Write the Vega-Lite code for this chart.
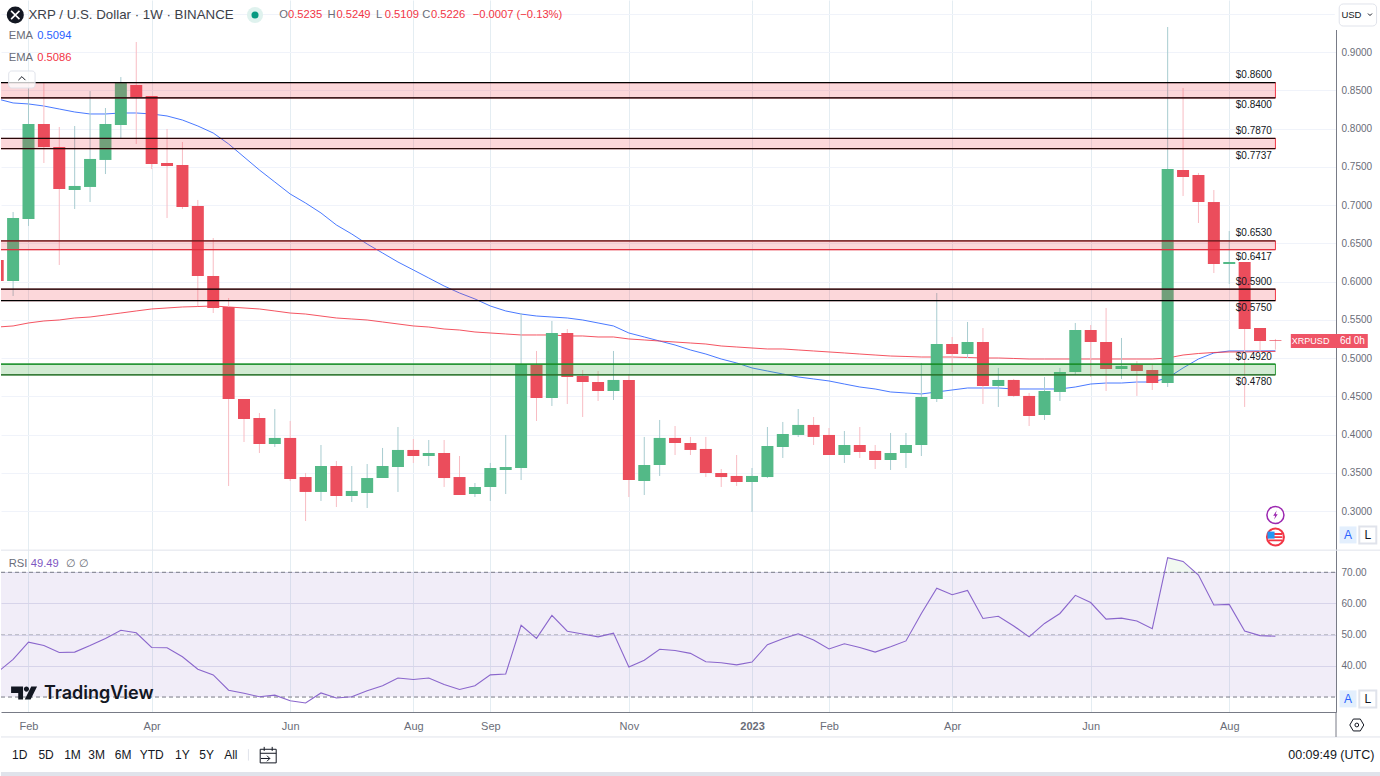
{
"$schema":"https://vega.github.io/schema/vega-lite/v6.json",
"padding":0,"background":"white","spacing":0,"bounds":"flush",
"config":{"view":{"stroke":null},"legend":{"disable":true},"scale":{"continuousPadding":0},"text":{"font":"Liberation Sans"},"axis":{"title":null,"titleOpacity":0,"labelFont":"Liberation Sans"}},
"datasets":{
"candles":[
{"d":"2022-01-24","o":0.6281,"h":0.6300,"l":0.5950,"c":0.6007,"eb":0.8386,"er":0.5405,"r":38},
{"d":"2022-01-31","o":0.6007,"h":0.6909,"l":0.5811,"c":0.6830,"eb":0.8334,"er":0.5419,"r":42.1},
{"d":"2022-02-07","o":0.6817,"h":0.8530,"l":0.6726,"c":0.8059,"eb":0.8321,"er":0.5458,"r":47.6},
{"d":"2022-02-14","o":0.8059,"h":0.8595,"l":0.7549,"c":0.7758,"eb":0.8294,"er":0.5484,"r":46.5},
{"d":"2022-02-21","o":0.7758,"h":0.8020,"l":0.6216,"c":0.7209,"eb":0.8255,"er":0.5497,"r":44.3},
{"d":"2022-02-28","o":0.7196,"h":0.8033,"l":0.6948,"c":0.7249,"eb":0.8216,"er":0.5523,"r":44.4},
{"d":"2022-03-07","o":0.7236,"h":0.8490,"l":0.7039,"c":0.7602,"eb":0.8190,"er":0.5536,"r":46.5},
{"d":"2022-03-14","o":0.7589,"h":0.8268,"l":0.7405,"c":0.8059,"eb":0.8190,"er":0.5562,"r":48.8},
{"d":"2022-03-21","o":0.8046,"h":0.8673,"l":0.7876,"c":0.8595,"eb":0.8203,"er":0.5588,"r":51.4},
{"d":"2022-03-28","o":0.8569,"h":0.9131,"l":0.7798,"c":0.8412,"eb":0.8203,"er":0.5615,"r":50.6},
{"d":"2022-04-04","o":0.8425,"h":0.8425,"l":0.7471,"c":0.7536,"eb":0.8190,"er":0.5641,"r":45.9},
{"d":"2022-04-11","o":0.7549,"h":0.7994,"l":0.6830,"c":0.7510,"eb":0.8164,"er":0.5654,"r":45.8},
{"d":"2022-04-18","o":0.7523,"h":0.7824,"l":0.6948,"c":0.6974,"eb":0.8111,"er":0.5667,"r":42.9},
{"d":"2022-04-25","o":0.6987,"h":0.7066,"l":0.5680,"c":0.6072,"eb":0.8033,"er":0.5673,"r":38.9},
{"d":"2022-05-02","o":0.6072,"h":0.6569,"l":0.5588,"c":0.5654,"eb":0.7941,"er":0.5680,"r":37.1},
{"d":"2022-05-09","o":0.5667,"h":0.5785,"l":0.3327,"c":0.4464,"eb":0.7798,"er":0.5667,"r":32.2},
{"d":"2022-05-16","o":0.4464,"h":0.4464,"l":0.3902,"c":0.4203,"eb":0.7628,"er":0.5654,"r":31.2},
{"d":"2022-05-23","o":0.4216,"h":0.4281,"l":0.3758,"c":0.3876,"eb":0.7458,"er":0.5641,"r":30.1},
{"d":"2022-05-30","o":0.3876,"h":0.4333,"l":0.3837,"c":0.3955,"eb":0.7301,"er":0.5615,"r":30.6},
{"d":"2022-06-06","o":0.3955,"h":0.4177,"l":0.3392,"c":0.3418,"eb":0.7144,"er":0.5588,"r":28.8},
{"d":"2022-06-13","o":0.3444,"h":0.3497,"l":0.2869,"c":0.3249,"eb":0.7026,"er":0.5575,"r":28.1},
{"d":"2022-06-20","o":0.3249,"h":0.3863,"l":0.3131,"c":0.3588,"eb":0.6896,"er":0.5549,"r":31.3},
{"d":"2022-06-27","o":0.3588,"h":0.3654,"l":0.3052,"c":0.3196,"eb":0.6739,"er":0.5523,"r":29.7},
{"d":"2022-07-04","o":0.3196,"h":0.3588,"l":0.3118,"c":0.3262,"eb":0.6621,"er":0.5510,"r":30.1},
{"d":"2022-07-11","o":0.3235,"h":0.3614,"l":0.3039,"c":0.3431,"eb":0.6490,"er":0.5497,"r":32.0},
{"d":"2022-07-18","o":0.3431,"h":0.3824,"l":0.3431,"c":0.3588,"eb":0.6373,"er":0.5471,"r":33.6},
{"d":"2022-07-25","o":0.3575,"h":0.4098,"l":0.3249,"c":0.3798,"eb":0.6255,"er":0.5445,"r":36.1},
{"d":"2022-08-01","o":0.3798,"h":0.3941,"l":0.3628,"c":0.3719,"eb":0.6151,"er":0.5419,"r":35.6},
{"d":"2022-08-08","o":0.3719,"h":0.3928,"l":0.3588,"c":0.3758,"eb":0.6046,"er":0.5405,"r":36.1},
{"d":"2022-08-15","o":0.3758,"h":0.3928,"l":0.3314,"c":0.3431,"eb":0.5941,"er":0.5379,"r":34.0},
{"d":"2022-08-22","o":0.3444,"h":0.3719,"l":0.3209,"c":0.3209,"eb":0.5850,"er":0.5366,"r":32.4},
{"d":"2022-08-29","o":0.3222,"h":0.3366,"l":0.3183,"c":0.3314,"eb":0.5772,"er":0.5340,"r":33.6},
{"d":"2022-09-05","o":0.3314,"h":0.3628,"l":0.3131,"c":0.3562,"eb":0.5680,"er":0.5327,"r":37.1},
{"d":"2022-09-12","o":0.3536,"h":0.3994,"l":0.3222,"c":0.3575,"eb":0.5615,"er":0.5314,"r":37.4},
{"d":"2022-09-19","o":0.3562,"h":0.5588,"l":0.3405,"c":0.4922,"eb":0.5575,"er":0.5301,"r":53.0},
{"d":"2022-09-26","o":0.4909,"h":0.5092,"l":0.4177,"c":0.4477,"eb":0.5549,"er":0.5301,"r":48.8},
{"d":"2022-10-03","o":0.4477,"h":0.5484,"l":0.4373,"c":0.5327,"eb":0.5536,"er":0.5301,"r":56.2},
{"d":"2022-10-10","o":0.5327,"h":0.5379,"l":0.4399,"c":0.4752,"eb":0.5523,"er":0.5288,"r":51.1},
{"d":"2022-10-17","o":0.4765,"h":0.4843,"l":0.4229,"c":0.4686,"eb":0.5497,"er":0.5288,"r":50.2},
{"d":"2022-10-24","o":0.4686,"h":0.4830,"l":0.4438,"c":0.4569,"eb":0.5458,"er":0.5275,"r":49.3},
{"d":"2022-10-31","o":0.4569,"h":0.5092,"l":0.4451,"c":0.4713,"eb":0.5419,"er":0.5275,"r":50.5},
{"d":"2022-11-07","o":0.4713,"h":0.4791,"l":0.3183,"c":0.3405,"eb":0.5327,"er":0.5249,"r":39.6},
{"d":"2022-11-14","o":0.3392,"h":0.3968,"l":0.3209,"c":0.3601,"eb":0.5275,"er":0.5236,"r":41.8},
{"d":"2022-11-21","o":0.3601,"h":0.4190,"l":0.3458,"c":0.3955,"eb":0.5222,"er":0.5222,"r":45.3},
{"d":"2022-11-28","o":0.3955,"h":0.4111,"l":0.3732,"c":0.3889,"eb":0.5170,"er":0.5209,"r":44.9},
{"d":"2022-12-05","o":0.3889,"h":0.3968,"l":0.3732,"c":0.3798,"eb":0.5105,"er":0.5196,"r":44.0},
{"d":"2022-12-12","o":0.3811,"h":0.3968,"l":0.3444,"c":0.3497,"eb":0.5052,"er":0.5183,"r":41.3},
{"d":"2022-12-19","o":0.3497,"h":0.3549,"l":0.3314,"c":0.3444,"eb":0.4987,"er":0.5157,"r":41.0},
{"d":"2022-12-26","o":0.3458,"h":0.3732,"l":0.3327,"c":0.3379,"eb":0.4935,"er":0.5144,"r":40.3},
{"d":"2023-01-02","o":0.3379,"h":0.3562,"l":0.2987,"c":0.3458,"eb":0.4870,"er":0.5131,"r":41.2},
{"d":"2023-01-09","o":0.3444,"h":0.4098,"l":0.3431,"c":0.3850,"eb":0.4830,"er":0.5118,"r":46.8},
{"d":"2023-01-16","o":0.3837,"h":0.4164,"l":0.3693,"c":0.4007,"eb":0.4791,"er":0.5118,"r":48.7},
{"d":"2023-01-23","o":0.3994,"h":0.4333,"l":0.3968,"c":0.4125,"eb":0.4752,"er":0.5105,"r":50.3},
{"d":"2023-01-30","o":0.4125,"h":0.4229,"l":0.3863,"c":0.3968,"eb":0.4726,"er":0.5092,"r":48.3},
{"d":"2023-02-06","o":0.3994,"h":0.4085,"l":0.3732,"c":0.3732,"eb":0.4700,"er":0.5079,"r":45.4},
{"d":"2023-02-13","o":0.3732,"h":0.4046,"l":0.3628,"c":0.3863,"eb":0.4660,"er":0.5066,"r":47.1},
{"d":"2023-02-20","o":0.3863,"h":0.4098,"l":0.3693,"c":0.3771,"eb":0.4621,"er":0.5052,"r":45.9},
{"d":"2023-02-27","o":0.3785,"h":0.3863,"l":0.3549,"c":0.3667,"eb":0.4595,"er":0.5039,"r":44.4},
{"d":"2023-03-06","o":0.3667,"h":0.4020,"l":0.3536,"c":0.3758,"eb":0.4556,"er":0.5026,"r":46.1},
{"d":"2023-03-13","o":0.3758,"h":0.4020,"l":0.3562,"c":0.3863,"eb":0.4543,"er":0.5020,"r":48.0},
{"d":"2023-03-20","o":0.3863,"h":0.4935,"l":0.3719,"c":0.4490,"eb":0.4530,"er":0.5013,"r":56.8},
{"d":"2023-03-27","o":0.4464,"h":0.5850,"l":0.4425,"c":0.5183,"eb":0.4556,"er":0.5013,"r":64.9},
{"d":"2023-04-03","o":0.5183,"h":0.5275,"l":0.4817,"c":0.5052,"eb":0.4582,"er":0.5013,"r":62.8},
{"d":"2023-04-10","o":0.5052,"h":0.5471,"l":0.5000,"c":0.5209,"eb":0.4608,"er":0.5007,"r":64.2},
{"d":"2023-04-17","o":0.5209,"h":0.5392,"l":0.4399,"c":0.4634,"eb":0.4608,"er":0.5000,"r":55.2},
{"d":"2023-04-24","o":0.4634,"h":0.4870,"l":0.4360,"c":0.4713,"eb":0.4608,"er":0.5000,"r":55.9},
{"d":"2023-05-01","o":0.4713,"h":0.4726,"l":0.4490,"c":0.4504,"eb":0.4595,"er":0.4994,"r":52.8},
{"d":"2023-05-08","o":0.4504,"h":0.4543,"l":0.4111,"c":0.4242,"eb":0.4595,"er":0.4987,"r":49.3},
{"d":"2023-05-15","o":0.4255,"h":0.4752,"l":0.4190,"c":0.4569,"eb":0.4595,"er":0.4987,"r":53.6},
{"d":"2023-05-22","o":0.4556,"h":0.4870,"l":0.4438,"c":0.4817,"eb":0.4595,"er":0.4987,"r":56.8},
{"d":"2023-05-29","o":0.4817,"h":0.5458,"l":0.4778,"c":0.5366,"eb":0.4621,"er":0.4987,"r":62.6},
{"d":"2023-06-05","o":0.5366,"h":0.5431,"l":0.4752,"c":0.5209,"eb":0.4660,"er":0.4987,"r":60.3},
{"d":"2023-06-12","o":0.5209,"h":0.5654,"l":0.4569,"c":0.4856,"eb":0.4673,"er":0.4987,"r":55.0},
{"d":"2023-06-19","o":0.4856,"h":0.5262,"l":0.4726,"c":0.4896,"eb":0.4673,"er":0.4987,"r":55.3},
{"d":"2023-06-26","o":0.4909,"h":0.4961,"l":0.4504,"c":0.4830,"eb":0.4686,"er":0.4987,"r":54.4},
{"d":"2023-07-03","o":0.4843,"h":0.4922,"l":0.4582,"c":0.4673,"eb":0.4686,"er":0.4987,"r":51.9},
{"d":"2023-07-10","o":0.4673,"h":0.9327,"l":0.4621,"c":0.7471,"eb":0.4739,"er":0.5000,"r":74.7},
{"d":"2023-07-17","o":0.7458,"h":0.8530,"l":0.7118,"c":0.7366,"eb":0.4870,"er":0.5039,"r":73.5},
{"d":"2023-07-24","o":0.7392,"h":0.7419,"l":0.6765,"c":0.7039,"eb":0.4987,"er":0.5059,"r":69.1},
{"d":"2023-07-31","o":0.7039,"h":0.7196,"l":0.6111,"c":0.6229,"eb":0.5066,"er":0.5072,"r":59.5},
{"d":"2023-08-07","o":0.6229,"h":0.6660,"l":0.5968,"c":0.6255,"eb":0.5092,"er":0.5079,"r":59.7},
{"d":"2023-08-14","o":0.6255,"h":0.6255,"l":0.4360,"c":0.5379,"eb":0.5092,"er":0.5079,"r":51.2},
{"d":"2023-08-21","o":0.5392,"h":0.5392,"l":0.5079,"c":0.5222,"eb":0.5092,"er":0.5085,"r":49.7},
{"d":"2023-08-28","o":0.5235,"h":0.5249,"l":0.5109,"c":0.5226,"eb":0.5094,"er":0.5086,"r":49.49}
],
"zones":[
{"zone":"a","top":0.86,"bottom":0.84,"from":"2022-01-01","to":"2023-08-28"},
{"zone":"b","top":0.787,"bottom":0.7737,"from":"2022-01-01","to":"2023-08-28"},
{"zone":"c","top":0.653,"bottom":0.6417,"from":"2022-01-01","to":"2023-08-28"},
{"zone":"d","top":0.59,"bottom":0.575,"from":"2022-01-01","to":"2023-08-28"},
{"zone":"e","top":0.492,"bottom":0.478,"from":"2022-01-01","to":"2023-08-28"}
],
"notes":[
{"d":"2022-02-07","p":0.9484,"label":"XRP / U.S. Dollar · 1W · BINANCE","kind":"title"},
{"d":"2022-06-01","p":0.9484,"label":"O","kind":"muted"},
{"d":"2022-06-05","p":0.9484,"label":"0.5235","kind":"down"},
{"d":"2022-06-23","p":0.9484,"label":"H","kind":"muted"},
{"d":"2022-06-27","p":0.9484,"label":"0.5249","kind":"down"},
{"d":"2022-07-15","p":0.9484,"label":"L","kind":"muted"},
{"d":"2022-07-19","p":0.9484,"label":"0.5109","kind":"down"},
{"d":"2022-08-05","p":0.9484,"label":"C","kind":"muted"},
{"d":"2022-08-09","p":0.9484,"label":"0.5226","kind":"down"},
{"d":"2022-08-28","p":0.9484,"label":"−0.0007 (−0.13%)","kind":"down"},
{"d":"2022-01-29","p":0.9209,"label":"EMA","kind":"muted"},
{"d":"2022-02-11","p":0.9209,"label":"0.5094","kind":"blue"},
{"d":"2022-01-29","p":0.8922,"label":"EMA","kind":"muted"},
{"d":"2022-02-11","p":0.8922,"label":"0.5086","kind":"down"}
],
"rsiNotes":[
{"d":"2022-01-29","v":72.66,"label":"RSI","kind":"muted"},
{"d":"2022-02-08","v":72.66,"label":"49.49","kind":"purple"},
{"d":"2022-02-24","v":72.66,"label":"∅","kind":"muted"},
{"d":"2022-03-02","v":72.66,"label":"∅","kind":"muted"}
],
"footerNotes":[
{"d":"2022-02-03","level":0.33,"label":"1D"},
{"d":"2022-02-15","level":0.33,"label":"5D"},
{"d":"2022-02-27","level":0.33,"label":"1M"},
{"d":"2022-03-10","level":0.33,"label":"3M"},
{"d":"2022-03-22","level":0.33,"label":"6M"},
{"d":"2022-04-04","level":0.33,"label":"YTD"},
{"d":"2022-04-18","level":0.33,"label":"1Y"},
{"d":"2022-04-29","level":0.33,"label":"5Y"},
{"d":"2022-05-10","level":0.33,"label":"All"}
]
},
"vconcat":[
{"width":1335,"height":550,
"encoding":{
"x":{"field":"d","type":"temporal","scale":{"type":"utc","nice":false,"domain":[{"year":2022,"month":1,"date":25,"hours":12,"utc":true},{"year":2023,"month":9,"date":24,"hours":13,"utc":true}]},"axis":{"labels":false,"ticks":false,"domain":false,"grid":true,"gridColor":"#e4edf2","values":[{"year":2022,"month":2,"date":7,"utc":true},{"year":2022,"month":4,"date":4,"utc":true},{"year":2022,"month":6,"date":6,"utc":true},{"year":2022,"month":8,"date":1,"utc":true},{"year":2022,"month":9,"date":5,"utc":true},{"year":2022,"month":11,"date":7,"utc":true},{"year":2023,"month":1,"date":2,"utc":true},{"year":2023,"month":2,"date":6,"utc":true},{"year":2023,"month":4,"date":3,"utc":true},{"year":2023,"month":6,"date":5,"utc":true},{"year":2023,"month":8,"date":7,"utc":true}]}},
"y":{"field":"p","type":"quantitative","scale":{"domain":[0.24902,0.968],"nice":false,"zero":false},"axis":{"orient":"right","values":[0.3,0.35,0.4,0.45,0.5,0.55,0.6,0.65,0.7,0.75,0.8,0.85,0.9,0.95],"labelExpr":"datum.value>0.93?'':format(datum.value,'.4f')","grid":true,"gridColor":"#f0f3fa","ticks":false,"domain":true,"domainColor":"#787b86","labelColor":"#6a6d78","labelFontSize":10,"labelPadding":5}}
},
"layer":[
{"data":{"name":"candles"},"mark":{"type":"line","clip":true,"color":"#2962ff","strokeWidth":1,"opacity":0.85},
"encoding":{"y":{"field":"eb","type":"quantitative","title":null,"scale":{"domain":[0.24902,0.968],"nice":false,"zero":false}}}},
{"data":{"name":"candles"},"mark":{"type":"line","clip":true,"color":"#f23645","strokeWidth":1,"opacity":0.85},
"encoding":{"y":{"field":"er","type":"quantitative","title":null,"scale":{"domain":[0.24902,0.968],"nice":false,"zero":false}}}},
{"data":{"name":"candles"},"mark":{"type":"rule","clip":true,"strokeWidth":1},
"encoding":{"y":{"field":"h","type":"quantitative","title":null,"scale":{"domain":[0.24902,0.968],"nice":false,"zero":false}},"y2":{"field":"l"},
"color":{"condition":{"test":"datum.c>=datum.o","value":"#a8ccd0"},"value":"#f8bcc3"}}},
{"data":{"name":"candles"},"mark":{"type":"bar","clip":true,"size":12},
"encoding":{"y":{"field":"o","type":"quantitative","title":null,"scale":{"domain":[0.24902,0.968],"nice":false,"zero":false}},"y2":{"field":"c"},
"color":{"condition":{"test":"datum.c>=datum.o","value":"#53b987"},"value":"#eb4d5c"}}},
{"data":{"name":"zones"},"mark":{"type":"rect","clip":true},
"encoding":{"x":{"field":"from","type":"temporal","title":null,"scale":{"type":"utc","nice":false,"domain":[{"year":2022,"month":1,"date":25,"hours":12,"utc":true},{"year":2023,"month":9,"date":24,"hours":13,"utc":true}]}},"x2":{"field":"to"},
"y":{"field":"top","type":"quantitative","title":null,"scale":{"domain":[0.24902,0.968],"nice":false,"zero":false}},"y2":{"field":"bottom"},
"fill":{"condition":{"test":"datum.zone=='e'","value":"#4caf50"},"value":"#f23645"},"fillOpacity":{"condition":{"test":"datum.zone=='e'","value":0.25},"value":0.2},
"stroke":{"condition":{"test":"datum.zone=='e'","value":"#2e9e3a"},"value":"#f23645"}}},
{"data":{"name":"zones"},"mark":{"type":"rule","clip":true,"strokeWidth":1.3},
"encoding":{"x":{"field":"from","type":"temporal","title":null,"scale":{"type":"utc","nice":false,"domain":[{"year":2022,"month":1,"date":25,"hours":12,"utc":true},{"year":2023,"month":9,"date":24,"hours":13,"utc":true}]}},"x2":{"field":"to"},
"y":{"field":"top","type":"quantitative","title":null,"scale":{"domain":[0.24902,0.968],"nice":false,"zero":false}},
"color":{"condition":[{"test":"datum.zone=='b'","value":"#2a0808"},{"test":"datum.zone=='c'","value":"#5a1a1a"},{"test":"datum.zone=='e'","value":"#128a22"}],"value":"#000000"}}},
{"data":{"name":"zones"},"mark":{"type":"rule","clip":true,"strokeWidth":1.3},
"encoding":{"x":{"field":"from","type":"temporal","title":null,"scale":{"type":"utc","nice":false,"domain":[{"year":2022,"month":1,"date":25,"hours":12,"utc":true},{"year":2023,"month":9,"date":24,"hours":13,"utc":true}]}},"x2":{"field":"to"},
"y":{"field":"bottom","type":"quantitative","title":null,"scale":{"domain":[0.24902,0.968],"nice":false,"zero":false}},
"color":{"condition":[{"test":"datum.zone=='b'","value":"#2a0808"},{"test":"datum.zone=='c'","value":"#e03040"},{"test":"datum.zone=='e'","value":"#2a6a2a"}],"value":"#000000"}}},
{"data":{"name":"zones"},"mark":{"type":"text","align":"right","baseline":"middle","dx":-3.5,"dy":-7.5,"fontSize":10,"color":"#131722"},
"encoding":{"x":{"field":"to","type":"temporal","title":null,"scale":{"type":"utc","nice":false,"domain":[{"year":2022,"month":1,"date":25,"hours":12,"utc":true},{"year":2023,"month":9,"date":24,"hours":13,"utc":true}]}},
"y":{"field":"top","type":"quantitative","title":null,"scale":{"domain":[0.24902,0.968],"nice":false,"zero":false}},"text":{"field":"top","format":"$.4f"}}},
{"data":{"name":"zones"},"mark":{"type":"text","align":"right","baseline":"middle","dx":-3.5,"dy":7.5,"fontSize":10,"color":"#131722"},
"encoding":{"x":{"field":"to","type":"temporal","title":null,"scale":{"type":"utc","nice":false,"domain":[{"year":2022,"month":1,"date":25,"hours":12,"utc":true},{"year":2023,"month":9,"date":24,"hours":13,"utc":true}]}},
"y":{"field":"bottom","type":"quantitative","title":null,"scale":{"domain":[0.24902,0.968],"nice":false,"zero":false}},"text":{"field":"bottom","format":"$.4f"}}},
{"data":{"name":"notes"},"mark":{"type":"text","align":"left","baseline":"middle","fontSize":11.2},
"encoding":{"text":{"field":"label"},"size":{"condition":{"test":"datum.kind=='title'","value":13.3},"value":11.2},
"color":{"condition":[{"test":"datum.kind=='title'","value":"#3c3f48"},{"test":"datum.kind=='muted'","value":"#6a6d78"},{"test":"datum.kind=='blue'","value":"#2962ff"}],"value":"#f23645"}}},
{"data":{"values":[{"d":"2022-02-01","p":0.9484}]},"mark":{"type":"point","shape":"circle","filled":true,"size":290,"color":"#131722","opacity":1}},
{"data":{"values":[{"d":"2022-02-01","p":0.9484}]},"mark":{"type":"point","shape":"M-1 -1L1 1M1 -1L-1 1","filled":false,"size":70,"color":"#ffffff","strokeWidth":1.6,"opacity":1}},
{"data":{"values":[{"d":"2022-05-21","p":0.9484}]},"mark":{"type":"point","shape":"circle","filled":true,"size":260,"color":"#dff2ee","opacity":1}},
{"data":{"values":[{"d":"2022-05-21","p":0.9484}]},"mark":{"type":"point","shape":"circle","filled":true,"size":50,"color":"#089981","opacity":1}},
{"data":{"values":[{"d":"2022-01-29","p0":0.8752,"e":"2022-02-10","p1":0.8530}]},"mark":{"type":"rect","fill":"#ffffff","fillOpacity":0.75,"stroke":"#e0e3eb","cornerRadius":3},
"encoding":{"x2":{"field":"e"},"y":{"field":"p0","type":"quantitative","title":null,"scale":{"domain":[0.24902,0.968],"nice":false,"zero":false}},"y2":{"field":"p1"}}},
{"data":{"values":[{"d":"2022-02-04","p":0.8655}]},"mark":{"type":"point","shape":"M-1 .5L0 -.5L1 .5","filled":false,"size":50,"color":"#131722","opacity":1,"strokeWidth":1}},
{"data":{"values":[{"d":"2023-09-24","e":"2023-10-16","p0":0.968,"p1":0.9288}]},"mark":{"type":"rect","fill":"#ffffff"},
"encoding":{"x2":{"field":"e"},"y":{"field":"p0","type":"quantitative","title":null,"scale":{"domain":[0.24902,0.968],"nice":false,"zero":false}},"y2":{"field":"p1"}}},
{"data":{"values":[{"d":"2023-09-26","e":"2023-10-13","p0":0.9628,"p1":0.934}]},"mark":{"type":"rect","fill":"#ffffff","stroke":"#e0e3eb","cornerRadius":4},
"encoding":{"x2":{"field":"e"},"y":{"field":"p0","type":"quantitative","title":null,"scale":{"domain":[0.24902,0.968],"nice":false,"zero":false}},"y2":{"field":"p1"}}},
{"data":{"values":[{"d":"2023-09-27","p":0.949,"label":"USD"}]},"mark":{"type":"text","align":"left","baseline":"middle","fontSize":9.5,"color":"#131722"},"encoding":{"text":{"field":"label"}}},
{"data":{"values":[{"d":"2023-10-10","p":0.949}]},"mark":{"type":"point","shape":"M-1 -.5L0 .5L1 -.5","filled":false,"size":16,"color":"#131722","opacity":1,"strokeWidth":1}},
{"data":{"values":[{"d":"2023-09-04","e":"2023-10-09","p0":0.5314,"p1":0.5131}]},"mark":{"type":"rect","fill":"#ef5466"},
"encoding":{"x2":{"field":"e"},"y":{"field":"p0","type":"quantitative","title":null,"scale":{"domain":[0.24902,0.968],"nice":false,"zero":false}},"y2":{"field":"p1"}}},
{"data":{"values":[{"d":"2023-09-13","p":0.5222,"label":"XRPUSD"},{"d":"2023-10-02","p":0.5222,"label":"6d 0h"}]},"mark":{"type":"text","align":"center","baseline":"middle","color":"#ffffff"},"encoding":{"text":{"field":"label"},"size":{"condition":{"test":"datum.label=='XRPUSD'","value":9},"value":10}}},
{"data":{"values":[{"d":"2023-08-28","p":0.2948}]},"mark":{"type":"point","shape":"circle","filled":true,"size":290,"fill":"#ffffff","stroke":"#9c27b0","strokeWidth":1.5,"opacity":1}},
{"data":{"values":[{"d":"2023-08-28","p":0.2948}]},"mark":{"type":"point","shape":"M.25 -.9L-.45 .15H-.05L-.25 .9L.45 -.15H.05Z","filled":true,"size":100,"color":"#9c27b0","opacity":1}},
{"data":{"values":[{"d":"2023-08-28","p":0.266}]},"mark":{"type":"point","shape":"circle","filled":true,"size":290,"fill":"#ffffff","stroke":"#f23645","strokeWidth":2,"opacity":1}},
{"data":{"values":[{"d":"2023-08-28","p":0.266}]},"mark":{"type":"point","shape":"M-.95 -.55H.95V-.3H-.95ZM-1 -.1H1V.15H-1ZM-.95 .35H.95V.6H-.95Z","filled":true,"size":200,"color":"#f23645","opacity":1}},
{"data":{"values":[{"d":"2023-08-26","p":0.2685}]},"mark":{"type":"point","shape":"square","filled":true,"size":50,"color":"#2196f3","opacity":1}},
{"data":{"values":[{"d":"2023-09-30","p":0.2687}]},"mark":{"type":"point","shape":"square","filled":true,"size":289,"color":"#e3effd","opacity":1}},
{"data":{"values":[{"d":"2023-10-09","p":0.2687}]},"mark":{"type":"point","shape":"square","filled":true,"size":289,"fill":"#ffffff","stroke":"#e0e3eb","opacity":1}},
{"data":{"values":[{"d":"2023-09-30","p":0.2687,"label":"A"}]},"mark":{"type":"text","align":"center","baseline":"middle","fontSize":12,"color":"#2962ff"},"encoding":{"text":{"field":"label"}}},
{"data":{"values":[{"d":"2023-10-09","p":0.2687,"label":"L"}]},"mark":{"type":"text","align":"center","baseline":"middle","fontSize":12,"color":"#131722"},"encoding":{"text":{"field":"label"}}}
]},
{"width":1335,"height":162,
"encoding":{
"x":{"field":"d","type":"temporal","scale":{"type":"utc","nice":false,"domain":[{"year":2022,"month":1,"date":25,"hours":12,"utc":true},{"year":2023,"month":9,"date":24,"hours":13,"utc":true}]},"axis":{"labels":false,"ticks":false,"domain":false,"grid":true,"gridColor":"#e4edf2","values":[{"year":2022,"month":2,"date":7,"utc":true},{"year":2022,"month":4,"date":4,"utc":true},{"year":2022,"month":6,"date":6,"utc":true},{"year":2022,"month":8,"date":1,"utc":true},{"year":2022,"month":9,"date":5,"utc":true},{"year":2022,"month":11,"date":7,"utc":true},{"year":2023,"month":1,"date":2,"utc":true},{"year":2023,"month":2,"date":6,"utc":true},{"year":2023,"month":4,"date":3,"utc":true},{"year":2023,"month":6,"date":5,"utc":true},{"year":2023,"month":8,"date":7,"utc":true}]}},
"y":{"field":"v","type":"quantitative","scale":{"domain":[25.2,77.15],"nice":false,"zero":false},"axis":{"orient":"right","values":[40,50,60,70],"format":".2f","grid":true,"gridColor":"#e2e3f0","ticks":false,"domain":true,"domainColor":"#787b86","labelColor":"#6a6d78","labelFontSize":10,"labelPadding":5}}
},
"layer":[
{"data":{"values":[{"upper":70,"lower":30,"from":"2022-01-25T12:00:00Z","to":"2023-09-24T13:00:00Z"}]},"mark":{"type":"rect","color":"#7e57c2","opacity":0.11},
"encoding":{"x":{"field":"from","type":"temporal","title":null,"scale":{"type":"utc","nice":false,"domain":[{"year":2022,"month":1,"date":25,"hours":12,"utc":true},{"year":2023,"month":9,"date":24,"hours":13,"utc":true}]}},"x2":{"field":"to"},
"y":{"field":"upper","type":"quantitative","title":null,"scale":{"domain":[25.2,77.15],"nice":false,"zero":false}},"y2":{"field":"lower"}}},
{"data":{"values":[{"level":77.1,"from":"2022-01-25T12:00:00Z","to":"2023-10-15T00:00:00Z"}]},"mark":{"type":"rule","color":"#e0e3eb"},
"encoding":{"x":{"field":"from","type":"temporal","title":null,"scale":{"type":"utc","nice":false,"domain":[{"year":2022,"month":1,"date":25,"hours":12,"utc":true},{"year":2023,"month":9,"date":24,"hours":13,"utc":true}]}},"x2":{"field":"to"},
"y":{"field":"level","type":"quantitative","title":null,"scale":{"domain":[25.2,77.15],"nice":false,"zero":false}}}},
{"data":{"values":[{"level":70,"from":"2022-01-25T12:00:00Z","to":"2023-09-24T13:00:00Z"},{"level":30,"from":"2022-01-25T12:00:00Z","to":"2023-09-24T13:00:00Z"}]},"mark":{"type":"rule","color":"#787b86","strokeDash":[4,3],"strokeWidth":1},
"encoding":{"x":{"field":"from","type":"temporal","title":null,"scale":{"type":"utc","nice":false,"domain":[{"year":2022,"month":1,"date":25,"hours":12,"utc":true},{"year":2023,"month":9,"date":24,"hours":13,"utc":true}]}},"x2":{"field":"to"},
"y":{"field":"level","type":"quantitative","title":null,"scale":{"domain":[25.2,77.15],"nice":false,"zero":false}}}},
{"data":{"values":[{"level":50,"from":"2022-01-25T12:00:00Z","to":"2023-09-24T13:00:00Z"}]},"mark":{"type":"rule","color":"#b8bac4","strokeDash":[4,3],"strokeWidth":1},
"encoding":{"x":{"field":"from","type":"temporal","title":null,"scale":{"type":"utc","nice":false,"domain":[{"year":2022,"month":1,"date":25,"hours":12,"utc":true},{"year":2023,"month":9,"date":24,"hours":13,"utc":true}]}},"x2":{"field":"to"},
"y":{"field":"level","type":"quantitative","title":null,"scale":{"domain":[25.2,77.15],"nice":false,"zero":false}}}},
{"data":{"name":"candles"},"transform":[{"filter":"datum.r>=69"}],"mark":{"type":"area","color":"#4caf50","opacity":0.08},
"encoding":{"y":{"field":"r","type":"quantitative","title":null,"scale":{"domain":[25.2,77.15],"nice":false,"zero":false}},"y2":{"datum":70}}},
{"data":{"name":"candles"},"mark":{"type":"line","clip":true,"color":"#8a66cc","strokeWidth":1.1},
"encoding":{"y":{"field":"r","type":"quantitative","title":null,"scale":{"domain":[25.2,77.15],"nice":false,"zero":false}}}},
{"data":{"name":"rsiNotes"},"mark":{"type":"text","align":"left","baseline":"middle","fontSize":11.2},
"encoding":{"text":{"field":"label"},"color":{"condition":{"test":"datum.kind=='purple'","value":"#7e57c2"},"value":"#6a6d78"}}},
{"data":{"values":[{"d":"2022-02-05","v":31.3}]},"mark":{"type":"point","shape":"M-1 -.5H-.08V.5H-.45V0H-1ZM.18 -.5A.15 .15 0 1 1 .18 -.1A.15 .15 0 1 1 .18 -.5ZM.55 -.5H1L.5 .5H.05Z","filled":true,"size":676,"color":"#131722","opacity":1}},
{"data":{"values":[{"d":"2022-02-14","v":31.0,"label":"TradingView"}]},"mark":{"type":"text","align":"left","baseline":"middle","font":"Inter","fontWeight":600,"fontSize":18,"color":"#131722"},"encoding":{"text":{"field":"label"}}},
{"data":{"values":[{"d":"2023-09-30","v":29.4}]},"mark":{"type":"point","shape":"square","filled":true,"size":289,"color":"#e3effd","opacity":1}},
{"data":{"values":[{"d":"2023-10-09","v":29.4}]},"mark":{"type":"point","shape":"square","filled":true,"size":289,"fill":"#ffffff","stroke":"#e0e3eb","opacity":1}},
{"data":{"values":[{"d":"2023-09-30","v":29.4,"label":"A"}]},"mark":{"type":"text","align":"center","baseline":"middle","fontSize":12,"color":"#2962ff"},"encoding":{"text":{"field":"label"}}},
{"data":{"values":[{"d":"2023-10-09","v":29.4,"label":"L"}]},"mark":{"type":"text","align":"center","baseline":"middle","fontSize":12,"color":"#131722"},"encoding":{"text":{"field":"label"}}}
]},
{"width":1335,"height":64,
"encoding":{
"x":{"field":"d","type":"temporal","scale":{"type":"utc","nice":false,"domain":[{"year":2022,"month":1,"date":25,"hours":12,"utc":true},{"year":2023,"month":9,"date":24,"hours":13,"utc":true}]},"axis":{"orient":"top","ticks":false,"grid":false,"domain":true,"domainColor":"#787b86","labelPadding":-19,"labelColor":"#6a6d78","labelFontSize":11,"labelFlush":false,"labelOverlap":false,"labelExpr":"utcmonth(datum.value)==0?'2023':utcFormat(datum.value,'%b')","labelFontWeight":{"condition":{"test":"utcmonth(datum.value)==0","value":"bold"},"value":"normal"},"values":[{"year":2022,"month":2,"date":7,"utc":true},{"year":2022,"month":4,"date":4,"utc":true},{"year":2022,"month":6,"date":6,"utc":true},{"year":2022,"month":8,"date":1,"utc":true},{"year":2022,"month":9,"date":5,"utc":true},{"year":2022,"month":11,"date":7,"utc":true},{"year":2023,"month":1,"date":2,"utc":true},{"year":2023,"month":2,"date":6,"utc":true},{"year":2023,"month":4,"date":3,"utc":true},{"year":2023,"month":6,"date":5,"utc":true},{"year":2023,"month":8,"date":7,"utc":true}]}},
"y":{"field":"level","type":"quantitative","axis":null,"scale":{"domain":[0,1],"nice":false,"zero":false}}
},
"layer":[
{"data":{"values":[{"from":"2022-01-25T12:00:00Z","to":"2023-10-15T00:00:00Z","level":0,"top":0.0625}]},"mark":{"type":"rect","fill":"#e0e3eb"},
"encoding":{"x":{"field":"from","type":"temporal","title":null,"scale":{"type":"utc","nice":false,"domain":[{"year":2022,"month":1,"date":25,"hours":12,"utc":true},{"year":2023,"month":9,"date":24,"hours":13,"utc":true}]}},"x2":{"field":"to"},"y2":{"field":"top"}}},
{"data":{"values":[{"from":"2022-01-25T12:00:00Z","to":"2023-10-15T00:00:00Z","level":0.61}]},"mark":{"type":"rule","color":"#e0e3eb"},
"encoding":{"x":{"field":"from","type":"temporal","title":null,"scale":{"type":"utc","nice":false,"domain":[{"year":2022,"month":1,"date":25,"hours":12,"utc":true},{"year":2023,"month":9,"date":24,"hours":13,"utc":true}]}},"x2":{"field":"to"}}},
{"data":{"values":[{"d":"2023-09-24T13:00:00Z","level":1,"low":0.61}]},"mark":{"type":"rule","color":"#787b86"},"encoding":{"y2":{"field":"low"}}},
{"data":{"values":[{"d":"2022-05-18","level":0.42,"low":0.24}]},"mark":{"type":"rule","color":"#e0e3eb"},"encoding":{"y2":{"field":"low"}}},
{"data":{"name":"footerNotes"},"mark":{"type":"text","align":"center","baseline":"middle","fontSize":12,"color":"#131722"},"encoding":{"text":{"field":"label"}}},
{"data":{"values":[{"d":"2022-05-27","level":0.33}]},"mark":{"type":"point","shape":"M-1 -.7H1V1H-1ZM-1 -.2H1M-.5 -1V-.5M.5 -1V-.5M-.9 .45H.2M-.15 .1L.2 .45L-.15 .8","filled":false,"size":256,"color":"#131722","strokeWidth":1,"opacity":1}},
{"data":{"values":[{"d":"2023-10-12","level":0.33,"label":"00:09:49 (UTC)"}]},"mark":{"type":"text","align":"right","baseline":"middle","fontSize":12.5,"color":"#131722"},"encoding":{"text":{"field":"label"}}},
{"data":{"values":[{"d":"2023-10-04","level":0.797}]},"mark":{"type":"point","shape":"M-1 0L-.5 -.85H.5L1 0L.5 .85H-.5Z","filled":false,"size":196,"color":"#131722","strokeWidth":1,"opacity":1}},
{"data":{"values":[{"d":"2023-10-04","level":0.797}]},"mark":{"type":"point","shape":"circle","filled":false,"size":14,"color":"#131722","strokeWidth":1,"opacity":1}}
]}
]
}
